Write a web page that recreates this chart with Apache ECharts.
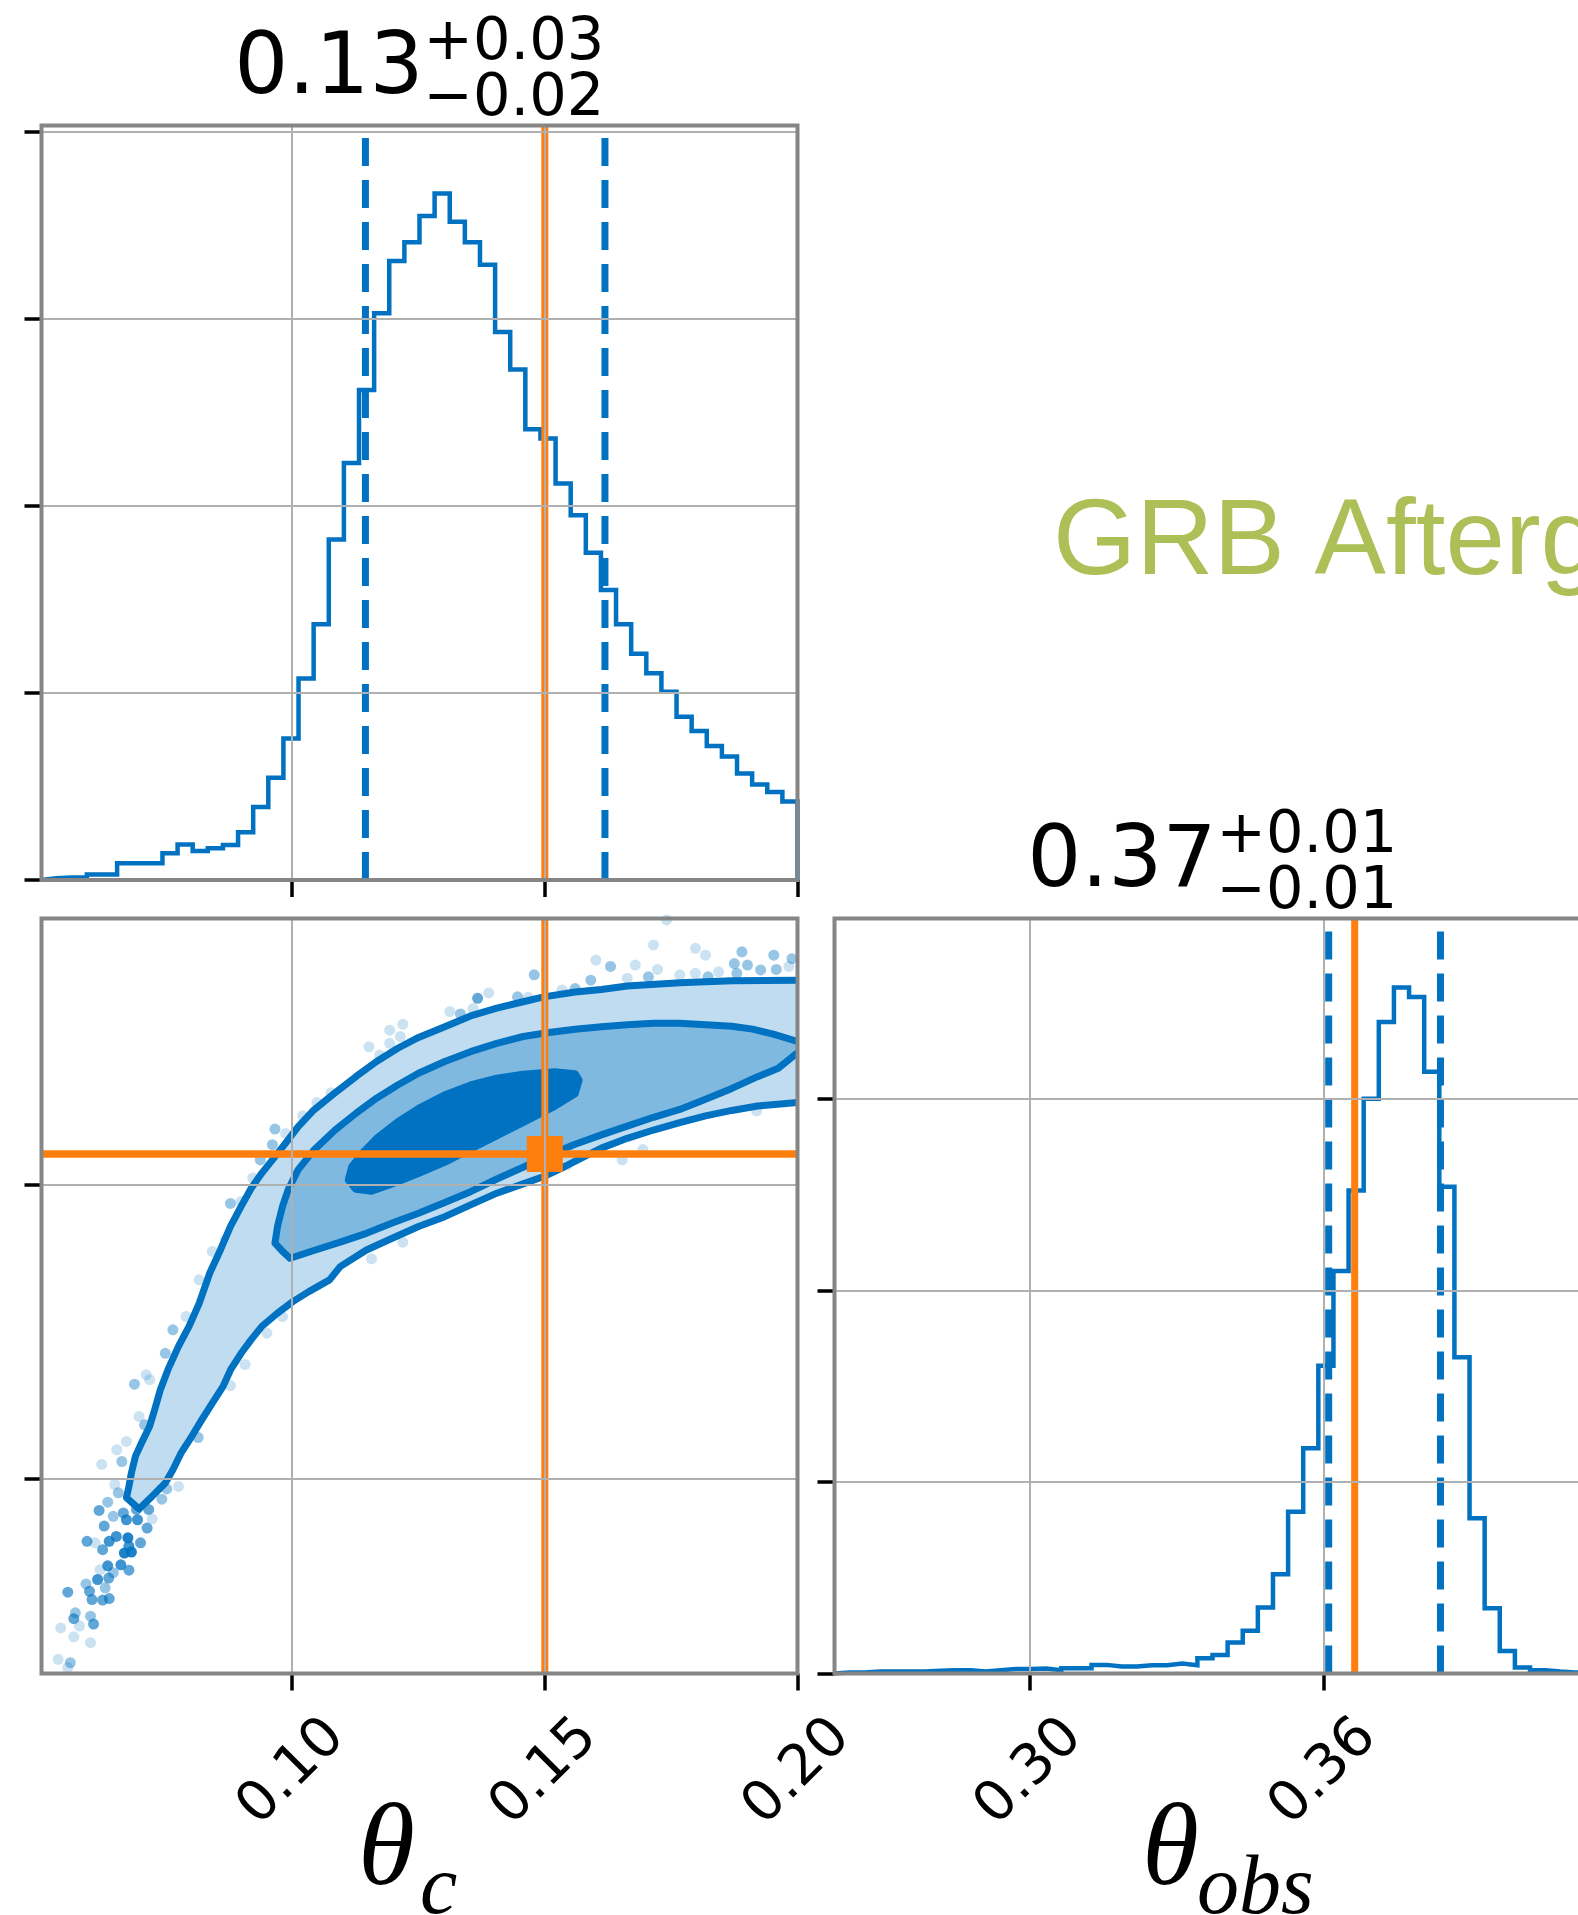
<!DOCTYPE html>
<html>
<head>
<meta charset="utf-8">
<script src="https://cdn.jsdelivr.net/npm/echarts@6/dist/echarts.min.js"></script>
<style>
  html, body { margin: 0; padding: 0; background: #ffffff; }
  #chart { width: 1578px; height: 1915px; }
</style>
</head>
<body>
<div id="chart"></div>
<script>
// Corner plot of the jet opening angle (theta_c) and viewing angle (theta_obs) posterior.

// ---- axis ranges and ticks ----
const thetaCRange = [0.0504, 0.20];
const thetaObsRange = [0.2602, 0.4144];
const thetaCTicks = [0.10, 0.15, 0.20];
const thetaObsTicks = [0.30, 0.36];
const thetaCDensityRange = [0, 4.034];
const thetaObsDensityRange = [0, 3.94];
const thetaCDensityTicks = [0, 1, 2, 3, 4];
const thetaObsDensityTicks = [0, 1, 2, 3];

// ---- 1D marginals (50 bins over each axis range) ----
const thetaCHist = [
  0.010, 0.014, 0.014, 0.030, 0.030, 0.089, 0.089, 0.089, 0.143, 0.190,
  0.155, 0.170, 0.187, 0.255, 0.390, 0.547, 0.756, 1.078, 1.367, 1.820,
  2.230, 2.620, 3.030, 3.310, 3.410, 3.550, 3.670, 3.520, 3.410, 3.290,
  2.930, 2.730, 2.410, 2.360, 2.120, 1.950, 1.750, 1.550, 1.367, 1.210,
  1.105, 1.007, 0.873, 0.797, 0.717, 0.660, 0.570, 0.510, 0.470, 0.420
];
const thetaObsHist = [
  0.005, 0.005, 0.010, 0.010, 0.010, 0.010, 0.014, 0.017, 0.017, 0.010,
  0.017, 0.023, 0.023, 0.026, 0.017, 0.028, 0.028, 0.045, 0.037, 0.037,
  0.043, 0.043, 0.052, 0.043, 0.080, 0.097, 0.162, 0.223, 0.344, 0.518,
  0.844, 1.176, 1.606, 2.100, 2.520, 3.000, 3.400, 3.580, 3.530, 3.140,
  2.540, 1.650, 0.810, 0.340, 0.118, 0.031, 0.017, 0.010, 0.005, 0.003
];

// ---- 16% / 84% quantiles and injected values ----
const thetaCQuantiles = [0.1145, 0.1619];
const thetaObsQuantiles = [0.3610, 0.3838];
const thetaCTrue = 0.15;
const thetaObsTrue = 0.3663;

// ---- titles: median, +upper, -lower ----
const thetaCTitle = ['0.13', '+0.03', '\u22120.02'];
const thetaObsTitle = ['0.37', '+0.01', '\u22120.01'];

// ---- 2D credible contours [theta_c, theta_obs] ----
const contour99 = [
  [0.2000, 0.4018], [0.1870, 0.4017], [0.1767, 0.4013], [0.1663, 0.4006], [0.1612, 0.3999],
  [0.1560, 0.3994], [0.1498, 0.3984], [0.1457, 0.3974], [0.1405, 0.3961], [0.1353, 0.3945],
  [0.1302, 0.3923], [0.1250, 0.3901], [0.1209, 0.3879], [0.1167, 0.3852], [0.1126, 0.3821],
  [0.1085, 0.3788], [0.1043, 0.3753], [0.1012, 0.3719], [0.0987, 0.3685], [0.0961, 0.3651],
  [0.0940, 0.3624], [0.0919, 0.3593], [0.0899, 0.3556], [0.0878, 0.3515], [0.0858, 0.3467],
  [0.0837, 0.3420], [0.0816, 0.3358], [0.0796, 0.3311], [0.0775, 0.3270], [0.0754, 0.3222],
  [0.0739, 0.3181], [0.0728, 0.3141], [0.0718, 0.3107], [0.0702, 0.3073], [0.0690, 0.3046],
  [0.0682, 0.3012], [0.0677, 0.2984], [0.0672, 0.2961], [0.0697, 0.2938], [0.0723, 0.2964],
  [0.0749, 0.2991], [0.0764, 0.3018], [0.0780, 0.3052], [0.0801, 0.3086], [0.0821, 0.3120],
  [0.0842, 0.3154], [0.0863, 0.3188], [0.0878, 0.3222], [0.0899, 0.3256], [0.0919, 0.3284],
  [0.0940, 0.3311], [0.0971, 0.3338], [0.1002, 0.3362], [0.1033, 0.3382], [0.1074, 0.3406],
  [0.1095, 0.3433], [0.1147, 0.3467], [0.1198, 0.3491], [0.1250, 0.3515], [0.1302, 0.3535],
  [0.1353, 0.3559], [0.1405, 0.3583], [0.1457, 0.3602], [0.1498, 0.3617], [0.1539, 0.3637],
  [0.1581, 0.3659], [0.1612, 0.3675], [0.1663, 0.3695], [0.1715, 0.3712], [0.1767, 0.3727],
  [0.1818, 0.3741], [0.1870, 0.3752], [0.1921, 0.3761], [0.2000, 0.3768]
];
const contour86 = [
  [0.2000, 0.3893], [0.1952, 0.3908], [0.1911, 0.3918], [0.1870, 0.3924], [0.1767, 0.3930],
  [0.1715, 0.3930], [0.1663, 0.3927], [0.1612, 0.3923], [0.1560, 0.3918], [0.1508, 0.3911],
  [0.1457, 0.3903], [0.1405, 0.3889], [0.1353, 0.3872], [0.1302, 0.3852], [0.1250, 0.3828],
  [0.1209, 0.3804], [0.1167, 0.3777], [0.1126, 0.3746], [0.1085, 0.3712], [0.1043, 0.3671],
  [0.1012, 0.3631], [0.0992, 0.3590], [0.0981, 0.3556], [0.0971, 0.3515], [0.0966, 0.3481],
  [0.0981, 0.3464], [0.0996, 0.3450], [0.1043, 0.3466], [0.1095, 0.3483], [0.1147, 0.3501],
  [0.1198, 0.3522], [0.1250, 0.3542], [0.1302, 0.3564], [0.1353, 0.3586], [0.1405, 0.3612],
  [0.1457, 0.3636], [0.1508, 0.3661], [0.1560, 0.3683], [0.1612, 0.3702], [0.1663, 0.3720],
  [0.1715, 0.3738], [0.1767, 0.3754], [0.1818, 0.3775], [0.1870, 0.3797], [0.1921, 0.3821],
  [0.1962, 0.3838], [0.2000, 0.3870]
];
const contour39 = [
  [0.1519, 0.3831], [0.1560, 0.3827], [0.1568, 0.3814], [0.1560, 0.3786], [0.1519, 0.3760],
  [0.1457, 0.3727], [0.1405, 0.3700], [0.1353, 0.3673], [0.1302, 0.3646], [0.1250, 0.3623],
  [0.1198, 0.3602], [0.1157, 0.3587], [0.1126, 0.3591], [0.1111, 0.3610], [0.1118, 0.3637],
  [0.1139, 0.3665], [0.1167, 0.3695], [0.1209, 0.3729], [0.1250, 0.3756], [0.1302, 0.3784],
  [0.1353, 0.3804], [0.1405, 0.3818], [0.1457, 0.3826]
];

// ---- posterior samples outside the contours [theta_c, theta_obs, samples at spot] ----
const outerSamples = [
  [0.0537, 0.2631, 1], [0.0561, 0.2624, 3], [0.0556, 0.2614, 1], [0.0542, 0.2695, 1], [0.0568, 0.2677, 1],
  [0.0601, 0.2665, 1], [0.0556, 0.2768, 6], [0.0571, 0.2726, 3], [0.0568, 0.2714, 6], [0.0579, 0.2699, 1],
  [0.0601, 0.2719, 3], [0.0607, 0.2703, 6], [0.0592, 0.2785, 3], [0.0599, 0.2770, 6], [0.0604, 0.2753, 6],
  [0.0615, 0.2794, 9], [0.0625, 0.2752, 6], [0.0638, 0.2755, 6], [0.0630, 0.2777, 3], [0.0637, 0.2797, 6],
  [0.0620, 0.2814, 1], [0.0635, 0.2822, 9], [0.0646, 0.2808, 3], [0.0661, 0.2824, 9], [0.0677, 0.2813, 6],
  [0.0668, 0.2848, 14], [0.0682, 0.2850, 14], [0.0677, 0.2862, 9], [0.0700, 0.2869, 6], [0.0594, 0.2872, 6],
  [0.0610, 0.2869, 1], [0.0625, 0.2855, 6], [0.0638, 0.2872, 9], [0.0652, 0.2882, 9], [0.0675, 0.2879, 14],
  [0.0628, 0.2903, 6], [0.0646, 0.2923, 3], [0.0666, 0.2930, 6], [0.0618, 0.2935, 6], [0.0635, 0.2952, 3],
  [0.0656, 0.2971, 3], [0.0649, 0.2988, 1], [0.0672, 0.2916, 9], [0.0694, 0.2916, 9], [0.0713, 0.2899, 6],
  [0.0723, 0.2918, 1], [0.0716, 0.2937, 6], [0.0692, 0.2937, 6], [0.0742, 0.2958, 3], [0.0752, 0.2979, 3],
  [0.0775, 0.2984, 1], [0.0623, 0.3029, 1], [0.0663, 0.3035, 3], [0.0653, 0.3059, 1], [0.0672, 0.3076, 1],
  [0.0697, 0.3127, 1], [0.0708, 0.3110, 3], [0.0688, 0.3193, 3], [0.0718, 0.3202, 1], [0.0711, 0.3212, 1],
  [0.0749, 0.3256, 3], [0.0764, 0.3304, 3], [0.0790, 0.3331, 1], [0.0814, 0.3084, 3], [0.0878, 0.3190, 1],
  [0.0907, 0.3233, 1], [0.0950, 0.3297, 1], [0.0981, 0.3331, 1],
  [0.1741, 0.4141, 1], [0.1715, 0.4090, 1], [0.1798, 0.4083, 1], [0.1818, 0.4069, 1], [0.1890, 0.4076, 3],
  [0.1953, 0.4069, 3], [0.1989, 0.4062, 3], [0.1601, 0.4059, 1], [0.1630, 0.4046, 3], [0.1679, 0.4049, 1],
  [0.1705, 0.4025, 3], [0.1723, 0.4040, 1], [0.1663, 0.4022, 1], [0.1767, 0.4029, 1], [0.1798, 0.4032, 1],
  [0.1823, 0.4025, 3], [0.1844, 0.4035, 1], [0.1875, 0.4052, 3], [0.1901, 0.4049, 3], [0.1880, 0.4032, 3],
  [0.1927, 0.4039, 3], [0.1958, 0.4040, 3], [0.1983, 0.4046, 1], [0.1479, 0.4029, 3], [0.1591, 0.4018, 3],
  [0.1560, 0.4001, 3], [0.1534, 0.3998, 1], [0.1446, 0.3984, 3], [0.1467, 0.3983, 1], [0.1389, 0.3992, 1],
  [0.1367, 0.3981, 6], [0.1333, 0.3949, 3], [0.1312, 0.3954, 1], [0.1358, 0.3960, 1], [0.1219, 0.3928, 1],
  [0.1193, 0.3916, 1], [0.1214, 0.3903, 1], [0.1152, 0.3882, 1], [0.1173, 0.3865, 1], [0.1193, 0.3889, 1],
  [0.1077, 0.3788, 1], [0.1049, 0.3768, 1], [0.1021, 0.3741, 1], [0.0966, 0.3714, 3], [0.0987, 0.3705, 1],
  [0.0961, 0.3682, 3], [0.0937, 0.3651, 3], [0.0922, 0.3614, 1], [0.0878, 0.3562, 3], [0.0899, 0.3566, 1],
  [0.0868, 0.3488, 1], [0.0842, 0.3464, 1], [0.0816, 0.3406, 1], [0.1653, 0.3651, 1], [0.1694, 0.3672, 1],
  [0.1919, 0.3751, 1], [0.1544, 0.3641, 1], [0.1157, 0.3449, 1], [0.1219, 0.3483, 1]
];

// ---- layout ----
const BLUE = '#0072C1';
const ORANGE = '#ff7f0e';
const GRID_COLOR = '#b0b0b0';
const FRAME_COLOR = '#858585';
const panels = [
  { left: 41.5, top: 125.5, width: 756, height: 754.5 },   // theta_c marginal
  { left: 41.5, top: 918.5, width: 756, height: 755 },     // joint
  { left: 834.5, top: 918.5, width: 756, height: 755 }     // theta_obs marginal
];

function valueAxis(gridIndex, range, ticks, withLabels) {
  return {
    type: 'value',
    gridIndex: gridIndex,
    min: range[0],
    max: range[1],
    z: 8,
    axisLine: { show: false },
    axisTick: {
      show: true, inside: false, length: 17, customValues: ticks,
      lineStyle: { color: '#000000', width: 3.5 }
    },
    axisLabel: withLabels ? {
      show: true, customValues: ticks, rotate: 45, align: 'center', verticalAlign: 'middle',
      margin: 99, fontSize: 56, fontFamily: 'DejaVu Sans', color: '#000000',
      formatter: function (v) { return Number(v).toFixed(2); }
    } : { show: false, customValues: ticks },
    splitLine: { show: true, lineStyle: { color: GRID_COLOR, width: 2 } }
  };
}

function stepSeries(values, range, axisIndex) {
  const w = (range[1] - range[0]) / values.length;
  const pts = [[range[0], 0]];
  values.forEach(function (v, i) { pts.push([range[0] + i * w, v]); });
  pts.push([range[1], values[values.length - 1]]);
  pts.push([range[1], 0]);
  return {
    type: 'line', xAxisIndex: axisIndex, yAxisIndex: axisIndex, step: 'end',
    data: pts, symbol: 'none', silent: true, z: 3,
    lineStyle: { color: BLUE, width: 4.5, join: 'miter' }
  };
}

function segment(axisIndex, a, b, color, width, type, z) {
  return {
    type: 'line', xAxisIndex: axisIndex, yAxisIndex: axisIndex,
    data: [a, b], symbol: 'none', silent: true, z: z,
    lineStyle: { color: color, width: width, type: type, cap: 'butt' }
  };
}

function contourSeries(ring, fill, closed, z) {
  return {
    type: 'custom', xAxisIndex: 1, yAxisIndex: 1, clip: true, silent: true, z: z,
    data: ring,
    encode: { x: 0, y: 1 },
    renderItem: function (params, api) {
      if (params.dataIndex !== 0) return null;
      const pts = ring.map(function (p) { return api.coord(p); });
      return {
        type: 'group',
        children: [
          { type: 'polygon', shape: { points: pts }, style: { fill: fill, stroke: null } },
          {
            type: closed ? 'polygon' : 'polyline', shape: { points: pts },
            style: { fill: null, stroke: BLUE, lineWidth: 7, lineJoin: 'round' }
          }
        ]
      };
    }
  };
}

const series = [];
// theta_c marginal
series.push(stepSeries(thetaCHist, thetaCRange, 0));
thetaCQuantiles.forEach(function (q) {
  series.push(segment(0, [q, thetaCDensityRange[0]], [q, thetaCDensityRange[1]], BLUE, 7, [28, 14], 4));
});
series.push(segment(0, [thetaCTrue, thetaCDensityRange[0]], [thetaCTrue, thetaCDensityRange[1]], ORANGE, 7, 'solid', 5));

// joint distribution
series.push({
  type: 'scatter', xAxisIndex: 1, yAxisIndex: 1, symbolSize: 11, silent: true, z: 2,
  data: outerSamples.map(function (s) {
    return { value: [s[0], s[1]], itemStyle: { color: BLUE, opacity: 1 - Math.pow(0.86, s[2] + 0.5) } };
  })
});
series.push(contourSeries(contour99, '#bfdcf0', false, 3));
series.push(contourSeries(contour86, '#80b9e0', false, 4));
series.push(contourSeries(contour39, BLUE, true, 5));
series.push(segment(1, [thetaCTrue, thetaObsRange[0]], [thetaCTrue, thetaObsRange[1]], ORANGE, 7, 'solid', 6));
series.push(segment(1, [thetaCRange[0], thetaObsTrue], [thetaCRange[1], thetaObsTrue], ORANGE, 7.5, 'solid', 6));
series.push({
  type: 'scatter', xAxisIndex: 1, yAxisIndex: 1, symbol: 'rect', symbolSize: 36, silent: true, z: 7,
  itemStyle: { color: ORANGE, opacity: 1 },
  data: [[thetaCTrue, thetaObsTrue]]
});

// theta_obs marginal
series.push(stepSeries(thetaObsHist, thetaObsRange, 2));
thetaObsQuantiles.forEach(function (q) {
  series.push(segment(2, [q, thetaObsDensityRange[0]], [q, thetaObsDensityRange[1]], BLUE, 7, [28, 14], 4));
});
series.push(segment(2, [thetaObsTrue, thetaObsDensityRange[0]], [thetaObsTrue, thetaObsDensityRange[1]], ORANGE, 7, 'solid', 5));

// ---- text and frames ----
function label(str, x, baseline, size, align, family, fontStyle, color) {
  return {
    type: 'text', z: 20, silent: true,
    style: {
      text: str, x: x, y: baseline - 0.25 * size,
      font: (fontStyle || 'normal') + ' ' + size + 'px ' + family,
      align: align, verticalAlign: 'middle', fill: color || '#000000'
    }
  };
}
function titleParts(p, parts) {
  const cx = p.left + p.width / 2 + 4;
  return [
    label(parts[0], cx, p.top - 33, 85, 'right', '"DejaVu Sans"'),
    label(parts[1], cx, p.top - 67, 59, 'left', '"DejaVu Sans"'),
    label(parts[2], cx, p.top - 11, 59, 'left', '"DejaVu Sans"')
  ];
}

const graphics = [];
panels.forEach(function (p) {
  graphics.push({
    type: 'rect', z: 15, silent: true,
    shape: { x: p.left, y: p.top, width: p.width, height: p.height },
    style: { fill: null, stroke: FRAME_COLOR, lineWidth: 4 }
  });
});
titleParts(panels[0], thetaCTitle).forEach(function (g) { graphics.push(g); });
titleParts(panels[2], thetaObsTitle).forEach(function (g) { graphics.push(g); });
graphics.push(label('\u03b8', 358, 1882, 116, 'left', '"Liberation Serif"', 'italic'));
graphics.push(label('c', 420, 1912, 84, 'left', '"Liberation Serif"', 'italic'));
graphics.push(label('\u03b8', 1142, 1882, 116, 'left', '"Liberation Serif"', 'italic'));
graphics.push(label('obs', 1197, 1912, 84, 'left', '"Liberation Serif"', 'italic'));
graphics.push(label('GRB Afterglow', 1053, 571, 107, 'left', '"Liberation Sans"', 'normal', '#adbf57'));

const option = {
  backgroundColor: '#ffffff',
  animation: false,
  grid: panels.map(function (p) {
    return { left: p.left, top: p.top, width: p.width, height: p.height, outerBoundsMode: 'none', containLabel: false };
  }),
  xAxis: [
    valueAxis(0, thetaCRange, thetaCTicks, false),
    valueAxis(1, thetaCRange, thetaCTicks, true),
    valueAxis(2, thetaObsRange, thetaObsTicks, true)
  ],
  yAxis: [
    valueAxis(0, thetaCDensityRange, thetaCDensityTicks, false),
    valueAxis(1, thetaObsRange, thetaObsTicks, false),
    valueAxis(2, thetaObsDensityRange, thetaObsDensityTicks, false)
  ],
  series: series,
  graphic: graphics
};

const chart = echarts.init(document.getElementById('chart'), null, { renderer: 'canvas', width: 1578, height: 1915 });
chart.setOption(option);
</script>
</body>
</html>
